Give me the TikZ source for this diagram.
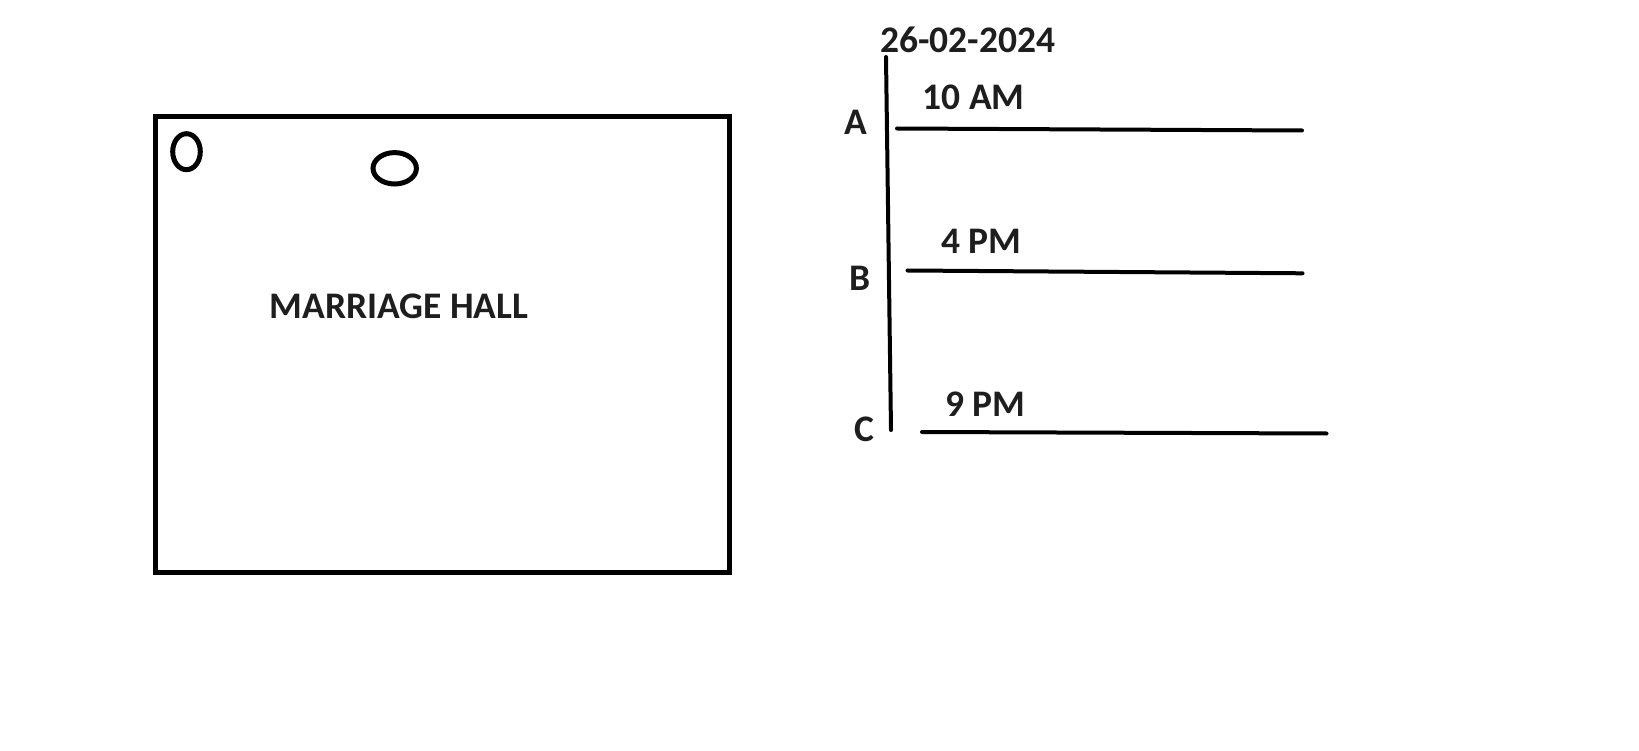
\documentclass[tikz,border=0pt]{standalone}
\usepackage{fontspec}
\setmainfont{Carlito}
\definecolor{ink}{RGB}{30,30,30}
\begin{document}
\begin{tikzpicture}[x=1pt,y=-1pt,
  lbl/.style={font=\bfseries\fontsize{37.5}{42}\selectfont, text=ink, inner sep=0pt, anchor=center},
  hallline/.style={line width=5pt},
  tline/.style={line width=4pt, line cap=round}]
\useasboundingbox (0,0) rectangle (1639,751);
% hall
\draw[hallline] (155,117) rectangle (729.5,572);
\draw[hallline] (186.5,151.7) ellipse [x radius=13.8, y radius=18];
\draw[hallline] (394.7,168.3) ellipse [x radius=21.7, y radius=15.7];
\node[lbl] (hall) at (399,306) {MARRIAGE HALL};
% timeline
\node[lbl] (date) at (967.5,39.5) {26-02-2024};
\coordinate (vtop) at (886,57);
\coordinate (vbot) at (891,430);
\draw[tline] (vtop) -- (vbot);
\node[lbl] (A) at (856,122.5) {A};
\node[lbl] (B) at (860,278) {B};
\node[lbl] (C) at (864,429) {C};
\node[lbl] (t1) at (973.7,97.7) {10 AM};
\node[lbl] (t2) at (981.3,241.3) {4 PM};
\node[lbl] (t3) at (985.3,404.7) {9 PM};
\coordinate (a1) at (897,128.5);
\coordinate (a2) at (1302,130.5);
\coordinate (b1) at (907.5,270.5);
\coordinate (b2) at (1302.5,273.3);
\coordinate (c1) at (922,432);
\coordinate (c2) at (1326.5,433.5);
\draw[tline] (a1) -- (a2);
\draw[tline] (b1) -- (b2);
\draw[tline] (c1) -- (c2);
\end{tikzpicture}
\end{document}
